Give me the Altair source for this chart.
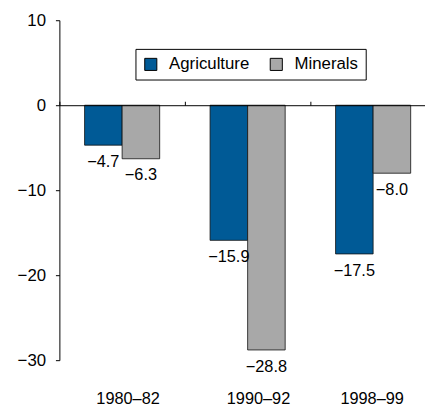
import altair as alt
import pandas as pd

periods = ["1980–82", "1990–92", "1998–99"]
agriculture = [-4.7, -15.9, -17.5]
minerals = [-6.3, -28.8, -8.0]
series = ["Agriculture", "Minerals"]
colors = ["#005a96", "#a8a8a8"]
y_ticks = [10, 0, -10, -20, -30]

rows = []
for p, a, m in zip(periods, agriculture, minerals):
    rows.append({"period": p, "series": "Agriculture", "value": a})
    rows.append({"period": p, "series": "Minerals", "value": m})
df = pd.DataFrame(rows)

FONT = "Liberation Sans"

x_scale = alt.Scale(domain=periods, range=[0, 381], paddingInner=0, paddingOuter=0)
y_scale = alt.Scale(domain=[-30, 10], nice=False, zero=False)
off_scale = alt.Scale(domain=series, paddingInner=0, paddingOuter=0.671)

label_offset = {
    "condition": [
        {"test": f"datum.value == '{periods[0]}'", "value": 6},
        {"test": f"datum.value == '{periods[1]}'", "value": 11},
    ],
    "value": -1,
}

base = alt.Chart(df)

bars = base.mark_bar(stroke="#111111", strokeWidth=0.8).encode(
    x=alt.X("period:N", scale=x_scale, sort=periods,
            axis=alt.Axis(orient="bottom", title=None, domain=False, ticks=False,
                          labelAngle=0, labelPadding=31, labelFontSize=16.5,
                          labelColor="black", labelFont=FONT, labelBaseline="top",
                          labelOffset=label_offset)),
    xOffset=alt.XOffset("series:N", scale=off_scale, sort=series),
    y=alt.Y("value:Q", scale=y_scale,
            axis=alt.Axis(values=y_ticks, title=None, grid=False, domainColor="black",
                          tickColor="black", tickSize=4, labelPadding=10,
                          labelFontSize=17, labelColor="black", labelFont=FONT,
                          format="d")),
    color=alt.Color("series:N", scale=alt.Scale(domain=series, range=colors),
                    legend=alt.Legend(title=None, orient="none", legendX=77, legendY=29,
                                      direction="horizontal", symbolType="square",
                                      symbolSize=150, symbolStrokeColor="black",
                                      symbolStrokeWidth=1, labelFontSize=17,
                                      labelFont=FONT, labelColor="black",
                                      labelOffset=10, columnPadding=18, padding=7,
                                      strokeColor="black", fillColor="white")),
)

labels = base.mark_text(baseline="alphabetic", dy=22, fontSize=16.5, font=FONT,
                        color="black").encode(
    x=alt.X("period:N", scale=x_scale, sort=periods,
            axis=alt.Axis(orient="top", offset=-86, labels=False, title=None,
                          domainColor="black", tickColor="black", tickSize=4,
                          bandPosition=0, zindex=1)),
    xOffset=alt.XOffset("series:N", scale=off_scale, sort=series),
    y=alt.Y("value:Q", scale=y_scale),
    text=alt.Text("value:Q", format=".1f"),
)

chart = alt.layer(bars, labels).resolve_axis(x="independent").properties(
    width=370, height=344,
    padding={"left": 52, "top": 10, "right": 0, "bottom": 44},
    autosize="none",
).configure_view(stroke=None)

chart.save("out.html", embed_options={"renderer": "svg", "actions": False})
